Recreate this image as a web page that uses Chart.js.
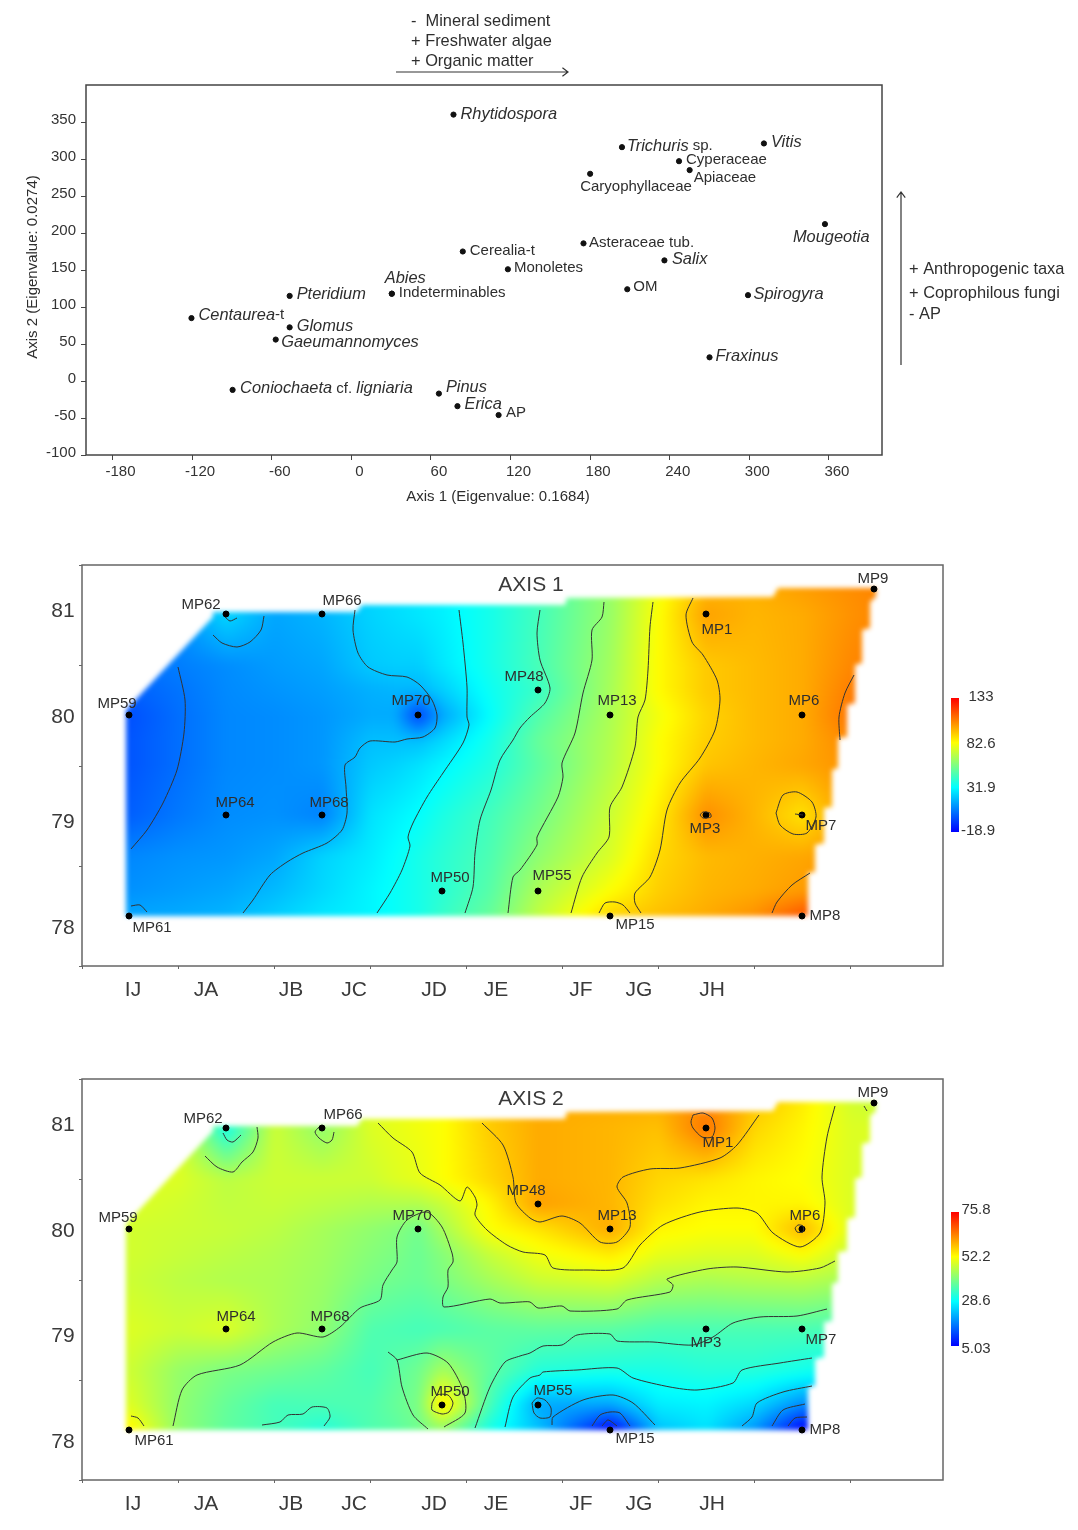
<!DOCTYPE html>
<html>
<head>
<meta charset="utf-8">
<title>Ordination axes and interpolation maps</title>
<script src="https://cdn.jsdelivr.net/npm/chart.js@4/dist/chart.umd.js"></script>
<style>
  html, body { margin: 0; padding: 0; background: #fff; }
  #page { position: relative; width: 1078px; height: 1530px; overflow: hidden; }
  canvas { position: absolute; left: 0; filter: blur(0.45px); }
</style>
</head>
<body>
<div id="page">
  <canvas id="scatter" width="1078" height="530" style="top:0"></canvas>
  <canvas id="map1" width="1078" height="490" style="top:540px"></canvas>
  <canvas id="map2" width="1078" height="476" style="top:1054px"></canvas>
</div>
<script>
// --- ordination scores (text between * is set in italics)
const taxa = ['*Rhytidospora*', '*Trichuris* sp.', '*Vitis*', 'Cyperaceae', 'Apiaceae', 'Caryophyllaceae',
  '*Mougeotia*', 'Asteraceae tub.', 'Cerealia-t', 'Monoletes', '*Salix*', 'OM', 'Indeterminables', '*Abies*',
  '*Pteridium*', '*Spirogyra*', '*Centaurea*-t', '*Glomus*', '*Gaeumannomyces*', '*Fraxinus*',
  '*Coniochaeta* cf. *ligniaria*', '*Pinus*', '*Erica*', 'AP'];
const axis1Scores = [77, 204, 311, 247, 255, 180, 357, 175, 84, 118, 236, 208, 30.5, 30.5, -46.5, 299, -120.5, -46.5, -57, 270, -89.5, 66, 80, 111];
const axis2Scores = [360, 316, 321, 297, 285, 280, 212, 186, 175, 151, 163, 124, 118, 118, 115, 116, 85, 72.5, 56, 32, -12, -17, -34, -46];
const scatterXTicks = [-180, -120, -60, 0, 60, 120, 180, 240, 300, 360];
const scatterYTicks = [-100, -50, 0, 50, 100, 150, 200, 250, 300, 350];
const taxaLabelShift = [[7,0],[5,-1],[7,-1],[7,-1],[4,8],[-10,13],[-32,13],[5.5,-1],[7,-1],[6,-1],[7.5,-1],[6,-2],[7,-1],[-7,-15],
  [7,-1],[5.5,-1],[7,-3],[7,-1],[5.5,3],[6,-1],[7.5,-1],[7,-6],[7,-2],[7.5,-2]];

// --- sampling stations, local metres on the excavation grid
const stations = ['MP1', 'MP3', 'MP6', 'MP7', 'MP8', 'MP9', 'MP13', 'MP15', 'MP48', 'MP50', 'MP55', 'MP59', 'MP61', 'MP62', 'MP64', 'MP66', 'MP68', 'MP70'];
const stationX = [624, 624, 720, 720, 720, 792, 528, 528, 456, 360, 456, 47, 47, 144, 144, 240, 240, 336];
const stationY = [352, 151, 251, 151, 50, 377, 251, 50, 276, 75, 75, 251, 50, 352, 151, 352, 151, 251];
const map1LabelShift = [[11,16],[-1,14],[2,-14],[19,11],[23,0],[-1,-10],[7,-14],[25,9],[-14,-13],[8,-13],[14,-15],[-12,-11],[23,12],[-25,-9],[9,-12],[20,-13],[7,-12],[-7,-14]];
const map2LabelShift = [[12,15],[0,14],[3,-13],[19,11],[23,0],[-1,-10],[7,-13],[25,9],[-12,-13],[8,-13],[15,-14],[-11,-11],[25,11],[-23,-9],[10,-12],[21,-13],[8,-12],[-6,-13]];

const gridColumns = ['IJ', 'JA', 'JB', 'JC', 'JD', 'JE', 'JF', 'JG', 'JH'];
const gridColumnX = [51, 124, 209, 272, 352, 414, 499, 557, 630];
const gridRows = ['81', '80', '79', '78'];
const gridRowY = [355, 249, 144, 38];
const mapXTicks = [0, 96, 192, 288, 384, 480, 576, 672, 768];
const mapYTicks = [0, 100, 200, 300, 400];

// --- sampled surface: columns, rows, then one row of values per map
const surfaceX = [48, 96, 144, 192, 240, 288, 312, 336, 360, 408, 456, 528, 576, 624, 672, 720, 768, 816];
const surfaceY = [382, 352, 301, 276, 251, 226, 201, 151, 110, 76, 51];
const axis1Surface = [
  [6, 10, 14, 15, 16, 24, 25.5, 27, 29, 36, 45, 62, 80, 96, 98, 102, 105, 108],
  [6, 10, 24, 14, 17, 23, 25, 27, 29, 36, 45, 62, 82, 101, 97, 99, 104, 108],
  [3, 6, 9, 12, 14, 21, 22, 22, 27, 36, 46, 64, 83, 93, 96, 99, 106, 110],
  [0, 4, 8.5, 10.5, 12.5, 16, 17, 17, 22, 34, 43, 65, 83, 93, 96, 99, 108, 112],
  [-3, 3, 8, 9, 11, 15, 15, -6, 14, 32, 48, 66, 80, 91, 96, 99, 110, 114],
  [-2, 3, 8, 9, 11, 19, 19, 19, 24, 36, 52, 67, 82, 92, 96, 99, 106, 110],
  [-2, 3, 8, 9, 11, 21, 23, 26, 30, 38, 50, 68, 82, 94, 97, 100, 104, 108],
  [0, 5, 9, 10, 7, 26, 29, 32, 37, 45, 55, 72, 86, 105, 97, 88, 103, 106],
  [8, 10, 11, 14, 23, 28, 32, 36, 40, 47, 60, 75, 90, 96, 98, 100, 103, 105],
  [10, 12, 14, 18, 24, 30, 33, 36, 40, 49, 66, 82, 92, 97, 99, 102, 106, 108],
  [14, 15, 17, 22, 27, 30, 33, 36, 42, 52, 70, 91, 95, 99, 104, 116, 118, 118]
];
const axis2Surface = [
  [49, 49, 45, 47, 46, 49, 50, 51, 52, 57, 60, 60, 60, 63, 58, 54, 48, 46],
  [49, 49, 30.5, 47.5, 42, 49, 50, 51, 52, 57, 60, 59, 58, 65, 56, 53, 49, 49],
  [49, 49, 46, 47.5, 47.5, 47.5, 49, 50, 52, 56, 60, 59, 56, 54.6, 53, 52, 49, 47.5],
  [49, 48, 46.5, 47, 46, 45, 45, 45, 47, 53, 61, 59, 55, 53, 53, 53, 49, 47.5],
  [48, 47.5, 47, 46, 44, 42, 41, 39, 44, 52, 54.6, 60, 53, 52, 52, 59, 49, 47.5],
  [48, 47, 46, 45, 43.5, 41, 40, 38.5, 41, 47, 51, 54, 50, 49, 49, 52, 47, 46],
  [47.5, 46, 45, 44.6, 43, 40, 39, 38.3, 40, 44, 47.5, 49, 45.5, 44.6, 45.4, 46, 44, 44],
  [49, 47.5, 49, 44.6, 42, 36, 35.5, 35, 35.5, 37, 37.5, 37, 35.5, 35.5, 35.5, 35.5, 35, 35],
  [47.5, 42.5, 40, 39, 37.5, 35, 37, 39, 44, 37.5, 32, 31, 31, 32, 32, 30.5, 28.6, 28.6],
  [49, 42, 38, 35, 35.5, 36, 38, 40, 54.6, 35, 20.6, 20.6, 27, 27.7, 25, 18, 19, 19],
  [53, 42, 37.5, 35, 32, 36, 37, 39, 42, 30.5, 23, 5, 23, 26, 19, 5, 8.5, 8.5]
];
// outline of the sampled area
const surfaceOutline = [[44,50],[44,256],[131,349],[131,354],[275,354],[280,361],[483,361],[485,368],[691,369],[696,378],[794,378],
  [794,369],[788,364],[788,338],[780,336],[780,303],[773,301],[773,263],[765,261],[765,229],[756,228],[756,198],[750,196],[750,159],
  [742,158],[742,123],[733,121],[733,94],[726,93],[726,50]];

const axis1Range = [-18.9, 133];
const axis2Range = [5.03, 75.8];
const axis1RangeLabels = ['133', '82.6', '31.9', '-18.9'];
const axis2RangeLabels = ['75.8', '52.2', '28.6', '5.03'];

// --- isolines
const axis1Contours = [
  [[96,299],[103,266],[102,233],[95,196],[81,163],[65,136],[49,117]],
  [[131,331],[140,323],[155,319],[168,324],[179,336],[182,350]],
  [[143,349],[148,345],[155,348]],
  [[49,60],[58,61],[65,54]],
  [[273,356],[271,336],[276,313],[286,299],[305,291],[325,289],[338,281],[350,266],[355,251],[353,238],[341,229],[325,227],[313,224],[288,225],[278,218],[273,209],[263,201],[264,179],[265,153],[260,136],[245,123],[221,113],[205,104],[188,91],[171,66],[161,53]],
  [[377,356],[381,323],[385,279],[385,249],[387,241],[381,223],[361,193],[345,169],[331,143],[326,129],[328,120],[320,96],[308,73],[295,53]],
  [[458,356],[455,333],[458,306],[468,278],[463,263],[448,249],[438,238],[431,226],[418,206],[409,176],[398,146],[393,113],[391,79],[383,53]],
  [[522,364],[520,349],[510,336],[510,306],[501,273],[493,233],[480,203],[481,189],[476,169],[455,129],[455,121],[438,96],[431,89],[426,53]],
  [[571,364],[568,339],[566,296],[563,266],[556,249],[553,219],[540,179],[528,159],[527,129],[515,113],[500,89],[489,53]],
  [[611,368],[604,351],[610,324],[621,311],[635,286],[638,266],[633,236],[618,208],[598,183],[585,156],[578,116],[568,89],[553,73],[553,63],[559,53]],
  [[772,291],[763,273],[757,249],[758,226]],
  [[728,93],[710,81],[695,64],[690,53]],
  [[517,53],[523,63],[533,64],[541,61],[548,53]],
  [[694,153],[701,171],[715,174],[730,164],[734,149],[725,133],[711,132],[698,141],[694,153]],
  [[713,152],[721,151]],
  [[618,151],[621,154],[628,153],[629,149],[621,148],[618,151]]
];
const axis2Contours = [
  [[141,347],[145,340],[151,338],[159,345]],
  [[123,324],[135,313],[151,308],[160,318],[171,328],[176,342],[175,353]],
  [[237,353],[233,348],[237,342],[245,337],[250,340],[252,348]],
  [[49,64],[56,62],[62,54]],
  [[296,357],[311,342],[330,328],[338,307],[358,295],[378,279],[385,293],[393,283],[395,275],[393,265],[405,250],[425,235],[441,228],[463,225],[471,212],[505,210],[541,212],[558,235],[581,255],[618,268],[655,272],[675,267],[691,247],[718,233],[738,247],[743,277],[740,303],[745,343],[753,374]],
  [[400,357],[421,335],[431,303],[434,277],[448,262],[458,258],[480,264],[498,257],[518,238],[535,238],[548,253],[545,277],[535,293],[541,303],[568,311],[598,312],[638,322],[655,335],[677,365]],
  [[611,365],[621,367],[630,362],[633,352],[630,343],[620,343],[611,352],[609,358],[611,365]],
  [[713,252],[716,255],[721,254],[721,248],[715,248],[713,252]],
  [[91,54],[100,90],[115,105],[158,115],[191,138],[215,147],[241,143],[258,153],[278,172],[298,180],[301,195],[310,210],[315,218],[315,243],[325,260],[345,268],[360,253],[370,227],[371,218],[366,210],[366,193],[361,183],[362,173],[408,181],[418,177],[438,178],[448,178],[456,172],[480,174],[488,169],[535,171],[545,180],[588,188],[591,195],[585,201],[625,211],[655,213],[705,208],[738,212],[753,219]],
  [[393,52],[408,93],[423,118],[438,124],[448,127],[461,134],[480,135],[495,145],[528,146],[535,139],[571,138],[611,135],[631,143],[651,157],[678,163],[715,164],[745,171]],
  [[423,53],[431,83],[448,102],[458,105],[461,108],[495,110],[535,112],[551,102],[588,93],[615,90],[651,97],[660,110],[698,117],[730,122]],
  [[450,77],[455,82],[463,80],[469,72],[468,63],[458,62],[452,67],[450,77]],
  [[470,55],[471,63],[501,80],[531,85],[551,77],[573,55]],
  [[510,54],[518,65],[528,68],[538,67],[548,54]],
  [[520,54],[526,60],[535,54]],
  [[660,54],[670,63],[675,77],[701,88],[730,94]],
  [[690,54],[701,70],[723,76]],
  [[706,54],[713,62],[725,63]],
  [[782,374],[785,369]],
  [[306,128],[315,120],[320,93],[331,65],[346,51]],
  [[315,120],[345,127],[366,117],[381,90],[383,67],[362,53]],
  [[350,77],[355,85],[366,85],[371,77],[367,68],[360,66],[350,70],[350,77]],
  [[180,55],[198,58],[206,65],[221,66],[230,73],[245,72],[248,63],[242,54]]
];

const FONT = '"Liberation Sans", Arial, sans-serif';
const INK = '#2e2e2e';

// blue - cyan - yellow - red ramp, t in 0..1
function rampColor(t) {
  t = Math.min(1, Math.max(0, t));
  if (t < 1 / 3) return [0, Math.round(255 * t * 3), 255];
  if (t < 2 / 3) { const k = (t - 1 / 3) * 3; return [Math.round(255 * k), 255, Math.round(255 * (1 - k))]; }
  return [255, Math.round(255 * (1 - t) * 3), 0];
}

function bracket(list, v, descending) {
  for (let i = 0; i < list.length - 1; i++) {
    const a = list[i], b = list[i + 1];
    if (descending ? v >= b : v <= b) {
      const k = (v - a) / (b - a);
      return [i, Math.min(1, Math.max(0, k))];
    }
  }
  return [list.length - 2, 1];
}

function text(ctx, str, x, y, font, align, color) {
  ctx.font = font;
  ctx.textAlign = align || 'left';
  ctx.textBaseline = 'middle';
  ctx.fillStyle = color || INK;
  ctx.fillText(str, x, y);
}

function openArrow(ctx, x1, y1, x2, y2) {
  const a = Math.atan2(y2 - y1, x2 - x1);
  ctx.strokeStyle = '#333';
  ctx.lineWidth = 1.2;
  ctx.beginPath();
  ctx.moveTo(x1, y1);
  ctx.lineTo(x2, y2);
  ctx.moveTo(x2 - 7 * Math.cos(a - 0.65), y2 - 7 * Math.sin(a - 0.65));
  ctx.lineTo(x2, y2);
  ctx.lineTo(x2 - 7 * Math.cos(a + 0.65), y2 - 7 * Math.sin(a + 0.65));
  ctx.stroke();
}

// paints the sampled surface behind the isolines
const surfacePlugin = {
  id: 'surface',
  beforeDatasetsDraw(chart, args, opts) {
    if (!opts.values) return;
    const { ctx, chartArea: area, scales: { x, y } } = chart;
    const w = Math.round(area.right - area.left), h = Math.round(area.bottom - area.top);
    const raw = document.createElement('canvas');
    raw.width = w; raw.height = h;
    const rawCtx = raw.getContext('2d');
    const img = rawCtx.createImageData(w, h);
    const [lo, hi] = opts.range;
    for (let py = 0; py < h; py++) {
      const [r, ry] = bracket(surfaceY, y.getValueForPixel(area.top + py), true);
      for (let px = 0; px < w; px++) {
        const [c, cx] = bracket(surfaceX, x.getValueForPixel(area.left + px), false);
        const v = opts.values[r][c] * (1 - ry) * (1 - cx) + opts.values[r][c + 1] * (1 - ry) * cx +
          opts.values[r + 1][c] * ry * (1 - cx) + opts.values[r + 1][c + 1] * ry * cx;
        const rgb = rampColor((v - lo) / (hi - lo));
        const i = (py * w + px) * 4;
        img.data[i] = rgb[0]; img.data[i + 1] = rgb[1]; img.data[i + 2] = rgb[2]; img.data[i + 3] = 255;
      }
    }
    rawCtx.putImageData(img, 0, 0);

    const out = document.createElement('canvas');
    out.width = w; out.height = h;
    const o = out.getContext('2d');
    o.filter = 'blur(4px)';
    o.drawImage(raw, 0, 0);
    o.filter = 'blur(2.5px)';
    o.globalCompositeOperation = 'destination-in';
    o.fillStyle = '#000';
    o.beginPath();
    surfaceOutline.forEach((p, i) => {
      const px = x.getPixelForValue(p[0]) - area.left, py = y.getPixelForValue(p[1]) - area.top;
      if (i) o.lineTo(px, py); else o.moveTo(px, py);
    });
    o.closePath();
    o.fill();
    ctx.drawImage(out, area.left, area.top);
  }
};

// frame, captions, arrows and the taxon labels of the ordination
const scatterDecor = {
  id: 'scatterDecor',
  afterDraw(chart) {
    const { ctx, chartArea: a, scales: { x, y } } = chart;
    ctx.save();
    ctx.strokeStyle = '#444';
    ctx.lineWidth = 1.5;
    ctx.strokeRect(a.left, a.top, a.right - a.left, a.bottom - a.top);

    const big = '16.4px ' + FONT;
    const small = '15px ' + FONT;
    taxa.forEach((label, i) => {
      let cx = x.getPixelForValue(axis1Scores[i]) + taxaLabelShift[i][0];
      const cy = y.getPixelForValue(axis2Scores[i]) + taxaLabelShift[i][1];
      label.split('*').forEach((part, k) => {
        if (!part) return;
        text(ctx, part, cx, cy, k % 2 ? 'italic ' + big : small);
        cx += ctx.measureText(part).width;
      });
    });

    text(ctx, '-  Mineral sediment', 411, 21, big);
    text(ctx, '+ Freshwater algae', 411, 41, big);
    text(ctx, '+ Organic matter', 411, 61, big);
    text(ctx, '+ Anthropogenic taxa', 909, 269, big);
    text(ctx, '+ Coprophilous fungi', 909, 293, big);
    text(ctx, '- AP', 909, 314, big);
    openArrow(ctx, 396, 72, 568, 72);
    openArrow(ctx, 901, 365, 901, 192);

    text(ctx, 'Axis 1 (Eigenvalue: 0.1684)', 498, 497, small, 'center');
    ctx.translate(33, 267);
    ctx.rotate(-Math.PI / 2);
    text(ctx, 'Axis 2 (Eigenvalue: 0.0274)', 0, 0, small, 'center');
    ctx.restore();
  }
};

// frame, grid references, station names and colour key of a map
const mapDecor = {
  id: 'mapDecor',
  afterDraw(chart, args, opts) {
    const { ctx, chartArea: a, scales: { x, y } } = chart;
    ctx.save();
    ctx.strokeStyle = '#666';
    ctx.lineWidth = 1.5;
    ctx.strokeRect(a.left, a.top, a.right - a.left, a.bottom - a.top);

    stations.forEach((name, i) => {
      text(ctx, name, x.getPixelForValue(stationX[i]) + opts.labelShift[i][0],
        y.getPixelForValue(stationY[i]) + opts.labelShift[i][1], '15px ' + FONT, 'center');
    });
    gridColumns.forEach((name, i) => {
      text(ctx, name, x.getPixelForValue(gridColumnX[i]), a.bottom + 24, '21px ' + FONT, 'center', '#3a3a3a');
    });
    gridRows.forEach((name, i) => {
      text(ctx, name, a.left - 19, y.getPixelForValue(gridRowY[i]), '21px ' + FONT, 'center', '#3a3a3a');
    });
    text(ctx, opts.title, x.getPixelForValue(449), a.top + 20, '21px ' + FONT, 'center', '#3a3a3a');

    // colour key
    const keyTop = a.top + 133, keyH = 134, keyL = 951;
    const g = ctx.createLinearGradient(0, keyTop, 0, keyTop + keyH);
    for (let i = 0; i <= 12; i++) {
      const c = rampColor(1 - i / 12);
      g.addColorStop(i / 12, `rgb(${c[0]},${c[1]},${c[2]})`);
    }
    ctx.fillStyle = g;
    ctx.fillRect(keyL, keyTop, 8, keyH);
    opts.keyLabels.forEach((label, i) => {
      text(ctx, label, opts.keyX[i], keyTop + opts.keyY[i], '15px ' + FONT, 'center', '#333');
    });
    ctx.restore();
  }
};

// thickness keeps the plot box at a fixed place whatever the labels measure
function fixedScale(min, max, tickValues, tickLen, thickness, callback, color, labelOffset, padding) {
  return {
    type: 'linear', min, max,
    afterBuildTicks: s => { s.ticks = tickValues.map(v => ({ value: v })); },
    afterFit: s => { if (s.isHorizontal()) s.height = thickness; else s.width = thickness; },
    grid: { drawOnChartArea: false, drawTicks: true, tickLength: tickLen, color },
    border: { display: false },
    ticks: { callback, autoSkip: false, minRotation: 0, maxRotation: 0, color: '#333', padding: padding || 3, labelOffset: labelOffset || 0, font: { family: FONT, size: 15 } }
  };
}

new Chart(document.getElementById('scatter'), {
  type: 'scatter',
  data: {
    datasets: [{
      data: taxa.map((t, i) => ({ x: axis1Scores[i], y: axis2Scores[i] })),
      backgroundColor: '#111', borderColor: '#111', pointRadius: 2.6, pointHoverRadius: 2.6
    }]
  },
  options: {
    responsive: false, animation: false,
    layout: { padding: { left: 0, top: 85, right: 196, bottom: 0 } },
    plugins: { legend: { display: false }, tooltip: { enabled: false } },
    scales: {
      x: fixedScale(-200, 400, scatterXTicks, 5, 75, v => String(v), '#444', 8, 3),
      y: fixedScale(-100, 400, scatterYTicks, 5, 86, v => String(v), '#444', -2, 5)
    }
  },
  plugins: [scatterDecor]
});

function makeMap(id, title, surface, range, contours, labelShift, keyLabels, keyX, keyY) {
  const datasets = contours.map(line => ({
    data: line.map(p => ({ x: p[0], y: p[1] })),
    showLine: true, borderColor: '#333', borderWidth: 1, pointRadius: 0, tension: 0.25, fill: false
  }));
  datasets.push({
    data: stations.map((s, i) => ({ x: stationX[i], y: stationY[i] })),
    backgroundColor: '#000', borderColor: '#000', pointRadius: 3, pointHoverRadius: 3, clip: false
  });
  return new Chart(document.getElementById(id), {
    type: 'scatter',
    data: { datasets },
    options: {
      responsive: false, animation: false,
      layout: { padding: { left: 82, top: 25, right: 135, bottom: document.getElementById(id).height - 426 } },
      plugins: {
        legend: { display: false }, tooltip: { enabled: false },
        surface: { values: surface, range },
        mapDecor: { title, labelShift, keyLabels, keyX, keyY }
      },
      scales: {
        x: fixedScale(0, 861, mapXTicks, 3, 0, () => '', '#666'),
        y: fixedScale(0, 401, mapYTicks, 3, 0, () => '', '#666')
      }
    },
    plugins: [surfacePlugin, mapDecor]
  });
}

makeMap('map1', 'AXIS 1', axis1Surface, axis1Range, axis1Contours, map1LabelShift, axis1RangeLabels,
  [981, 981, 981, 978], [-1, 46, 90, 133]);
makeMap('map2', 'AXIS 2', axis2Surface, axis2Range, axis2Contours, map2LabelShift, axis2RangeLabels,
  [976, 976, 976, 976], [-2, 45, 89, 137]);
</script>
</body>
</html>
